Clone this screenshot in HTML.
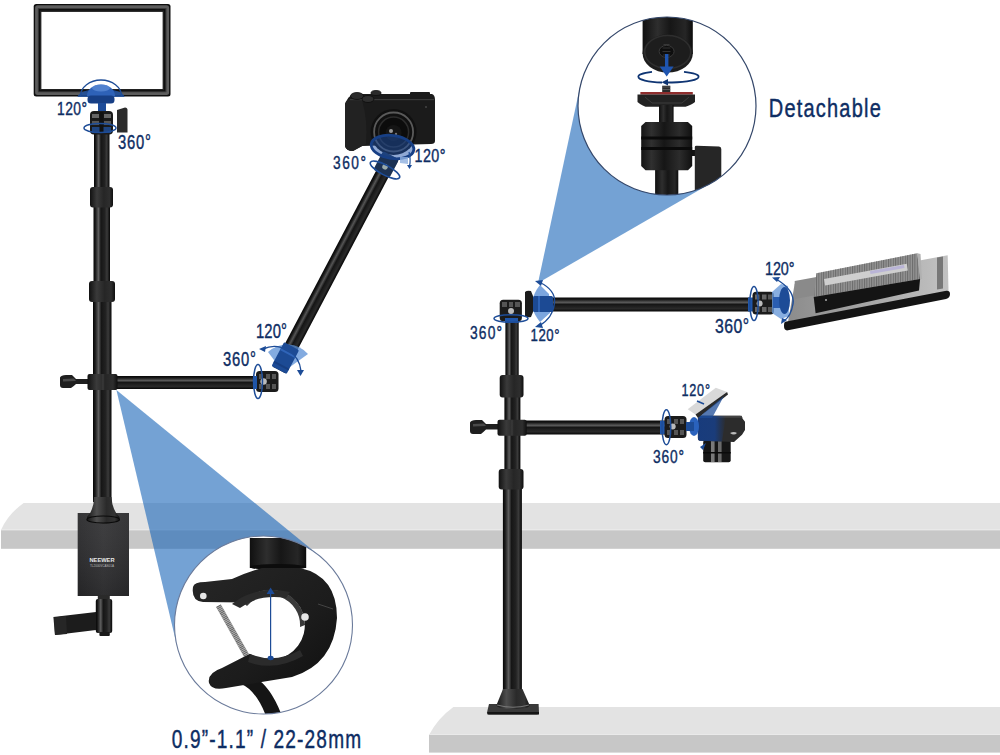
<!DOCTYPE html>
<html><head><meta charset="utf-8">
<style>
html,body{margin:0;padding:0;background:#fff;width:1000px;height:755px;overflow:hidden}
svg{display:block}
.t2{font-family:"Liberation Sans",sans-serif;fill:#0e2d63;stroke:#0e2d63;stroke-width:0.45px}
.t{font-family:"Liberation Sans",sans-serif;fill:#0e2d63;stroke:#0e2d63;stroke-width:0.4px}
</style></head>
<body>
<svg width="1000" height="755" viewBox="0 0 1000 755">
<defs>
 <linearGradient id="poleV" x1="0" x2="1" y1="0" y2="0">
  <stop offset="0" stop-color="#050505"/><stop offset="0.12" stop-color="#1c1c1c"/><stop offset="0.3" stop-color="#5e5e5e"/><stop offset="0.45" stop-color="#161616"/><stop offset="0.68" stop-color="#222"/><stop offset="0.82" stop-color="#3a3a3a"/><stop offset="1" stop-color="#060606"/>
 </linearGradient>
 <linearGradient id="poleH" x1="0" x2="0" y1="0" y2="1">
  <stop offset="0" stop-color="#050505"/><stop offset="0.15" stop-color="#1a1a1a"/><stop offset="0.35" stop-color="#5a5a5a"/><stop offset="0.5" stop-color="#161616"/><stop offset="0.8" stop-color="#2a2a2a"/><stop offset="1" stop-color="#050505"/>
 </linearGradient>
 <clipPath id="c1"><circle cx="263.5" cy="625" r="89"/></clipPath>
 <clipPath id="c2"><circle cx="667" cy="106" r="89"/></clipPath>

 <linearGradient id="poleH2" x1="0" x2="1" y1="0" y2="0">
  <stop offset="0" stop-color="#050505"/><stop offset="0.15" stop-color="#1a1a1a"/><stop offset="0.32" stop-color="#555"/><stop offset="0.5" stop-color="#151515"/><stop offset="0.8" stop-color="#2a2a2a"/><stop offset="1" stop-color="#050505"/>
 </linearGradient>
 <linearGradient id="collar" x1="0" x2="1" y1="0" y2="0">
  <stop offset="0" stop-color="#111"/><stop offset="0.3" stop-color="#3a3a3a"/><stop offset="0.6" stop-color="#262626"/><stop offset="0.85" stop-color="#2e2e2e"/><stop offset="1" stop-color="#0e0e0e"/>
 </linearGradient>
 <linearGradient id="coneG" x1="0" x2="1" y1="0" y2="0">
  <stop offset="0" stop-color="#161616"/><stop offset="0.3" stop-color="#4e4e4e"/><stop offset="0.6" stop-color="#2a2a2a"/><stop offset="0.85" stop-color="#333"/><stop offset="1" stop-color="#121212"/>
 </linearGradient>
 <linearGradient id="boxG" x1="0" x2="1" y1="0" y2="0">
  <stop offset="0" stop-color="#28282a"/><stop offset="0.5" stop-color="#333335"/><stop offset="1" stop-color="#2a2a2c"/>
 </linearGradient>

 <linearGradient id="cylG" x1="0" x2="1" y1="0" y2="0">
  <stop offset="0" stop-color="#101010"/><stop offset="0.3" stop-color="#2e2e2e"/><stop offset="0.55" stop-color="#161616"/><stop offset="0.85" stop-color="#262626"/><stop offset="1" stop-color="#0c0c0c"/>
 </linearGradient>
 <linearGradient id="clampG" x1="0" x2="1" y1="0" y2="1">
  <stop offset="0" stop-color="#262626"/><stop offset="0.6" stop-color="#1c1c1c"/><stop offset="1" stop-color="#101010"/>
 </linearGradient>

 <linearGradient id="plateG" x1="0" x2="1" y1="0" y2="0">
  <stop offset="0" stop-color="#8c8c8c"/><stop offset="0.5" stop-color="#a6a6a6"/><stop offset="1" stop-color="#c2c2c2"/>
 </linearGradient>
 <pattern id="ribs" width="2.4" height="10" patternUnits="userSpaceOnUse">
  <rect width="1" height="10" fill="#6a6a6a"/>
 </pattern>

 <linearGradient id="ballG" x1="0" x2="1" y1="0" y2="0">
  <stop offset="0" stop-color="#141414"/><stop offset="0.2" stop-color="#303030"/><stop offset="0.45" stop-color="#161616"/><stop offset="0.75" stop-color="#2c2c2c"/><stop offset="1" stop-color="#101010"/>
 </linearGradient>

 <linearGradient id="boxV" x1="0" x2="0" y1="0" y2="1">
  <stop offset="0" stop-color="#fff" stop-opacity="0.06"/><stop offset="1" stop-color="#000" stop-opacity="0.1"/>
 </linearGradient>

 <linearGradient id="wcBlue" x1="0" x2="1" y1="0" y2="0">
  <stop offset="0" stop-color="#173c80" stop-opacity="0.95"/><stop offset="0.6" stop-color="#173f88" stop-opacity="0.85"/><stop offset="1" stop-color="#173f88" stop-opacity="0"/>
 </linearGradient>
</defs>

<!-- shelves -->
<path d="M23.7,503 L1000,503 L1000,530 L1,530 Q8,514 23.7,503 Z" fill="#e3e3e3"/>
<rect x="1" y="529.3" width="999" height="1.2" fill="#ececec"/>
<rect x="1" y="530.3" width="999" height="18.5" fill="#c7c7c7"/>
<path d="M453.4,707 L1000,707 L1000,735 L429,735 Q438,718 453.4,707 Z" fill="#e3e3e3"/>
<rect x="429" y="734.2" width="571" height="1.2" fill="#ececec"/>
<rect x="429" y="735" width="571" height="17.6" fill="#c7c7c7"/>

<!-- left cone -->
<polygon points="116.4,390 176.9,645.5 263.5,625 319.8,556" fill="#1764b7" fill-opacity="0.6"/>
<!-- left circle -->
<circle cx="263.5" cy="625" r="89" fill="#fff"/>

<!-- right cone -->
<polygon points="538,283 579.9,87.3 667,106 711.4,183.1" fill="#1764b7" fill-opacity="0.6"/>
<circle cx="667" cy="106" r="89" fill="#fff"/>

<!-- LEFT STAND -->
<!-- pole -->
<rect x="94" y="130" width="15.5" height="60" fill="url(#poleV)"/>
<rect x="93.5" y="205" width="16.5" height="80" fill="url(#poleV)"/>
<rect x="93" y="300" width="18.5" height="202" fill="url(#poleV)"/>
<rect x="90" y="187" width="23" height="20.5" rx="3" fill="url(#collar)"/>
<rect x="89" y="281" width="26" height="21" rx="3" fill="url(#collar)"/>

<!-- clamp box -->
<rect x="77.7" y="513" width="51.3" height="83" fill="url(#boxG)"/>
<rect x="77.7" y="513" width="51.3" height="83" fill="url(#boxV)"/>
<path d="M94,497 L111.5,497 Q112,510 119.5,517 L119.5,520 Q112,524 103,524 Q94,524 87,520 L87,517 Q94,510 94,497 Z" fill="url(#coneG)"/>
<ellipse cx="103.2" cy="519.5" rx="16.3" ry="3.5" fill="none" stroke="#0a0a0a" stroke-width="1.2"/>
<text x="89.5" y="562" font-family="Liberation Sans" font-weight="bold" font-size="6.2" fill="#e8e8e8" textLength="25" lengthAdjust="spacingAndGlyphs">NEEWER</text>
<text x="90" y="566.5" font-family="Liberation Sans" font-size="3.5" fill="#bbb" textLength="24" lengthAdjust="spacingAndGlyphs">TL2000VCAS01A</text>
<!-- screw + handle -->
<rect x="97.8" y="595" width="12" height="5" fill="#2a2a2a"/>
<rect x="95.8" y="599" width="16.4" height="34" rx="2" fill="url(#poleV)"/>
<rect x="99.4" y="632" width="10.4" height="4" rx="1" fill="#1a1a1a"/>
<path d="M53.4,617 L96,612 L96,630 L55,635 Z" fill="#1c1c1c"/>
<path d="M54,617.5 L66,616 L67,634 L55,635 Z" fill="#262626"/>
<!-- horizontal arm -->
<rect x="116" y="376" width="140" height="13" fill="url(#poleH)"/>
<path d="M60,377.5 Q61,375 66,375 L72,375 Q74,377 76,379 L88,379 L88,384 L76,384 Q74,386 71,388 L63,388 Q60,388 60,385 Z" fill="#1f1f1f"/><path d="M63,379 L74,378.5 L76,381 L63,381.5 Z" fill="#4a4a4a"/>
<rect x="87.5" y="374" width="30" height="16" rx="2" fill="url(#collar)"/>
<line x1="103" y1="374" x2="103" y2="390" stroke="#444" stroke-width="0.8"/>
<!-- joint -->
<rect x="256" y="371" width="22.5" height="21" rx="3.5" fill="#1b1b1b"/>
<rect x="259" y="374" width="4" height="5" fill="#555"/><rect x="266" y="374" width="4" height="5" fill="#555"/><rect x="272" y="374" width="4" height="5" fill="#555"/>
<rect x="259" y="384" width="4" height="5" fill="#555"/><rect x="266" y="384" width="4" height="5" fill="#555"/><rect x="272" y="384" width="4" height="5" fill="#555"/>
<circle cx="263.6" cy="381.5" r="3.2" fill="#bbb"/>
<ellipse cx="258" cy="381.5" rx="4.5" ry="17" fill="none" stroke="#1d4c97" stroke-width="1.5"/>
<rect x="253" y="376" width="4" height="13" fill="#1f55a8"/>
<!-- diagonal arm -->
<g transform="translate(279,370) rotate(27.8)">
 <path d="M284,372 L297,352 L300,354 L286,374 Z" fill="none"/>
 <rect x="-7" y="-226" width="14" height="226" fill="url(#poleH2)"/>
 <path d="M-16,-5 A25,25 0 0 1 -3,-30 L0,0 Z" fill="#6f9fd8" opacity="0"/>
</g>
<path d="M283,372 L268,352 A28,28 0 0 1 308,354 Z" fill="#5a8fd6" fill-opacity="0.75"/>
<g transform="translate(279,370) rotate(27.8)">
 <rect x="-8.5" y="-27" width="17" height="27" rx="1.5" fill="#1c4a94"/>
 <rect x="-8.5" y="-20" width="17" height="2" fill="#2f64b8"/>
 <rect x="-8.5" y="-6" width="17" height="2" fill="#173e80"/>
</g>
<path d="M263,349 A27,27 0 0 1 301,371" fill="none" stroke="#1d4c97" stroke-width="1.4"/>
<path d="M259,349 L266,346 L265,352 Z" fill="#1d4c97"/>
<path d="M297,370 L304,370 L300.5,376 Z" fill="#1d4c97"/>
<!-- panel -->
<rect x="33.7" y="3.9" width="136.8" height="92.5" rx="2.5" fill="#0e0e0e"/>
<rect x="36.6" y="6.8" width="131" height="86.7" rx="1" fill="none" stroke="#5c5c5c" stroke-width="3"/>
<rect x="38.3" y="8.5" width="127.6" height="83.3" fill="none" stroke="#3a3a3a" stroke-width="1"/>
<rect x="41.2" y="11.7" width="121.6" height="77.3" fill="#fff"/>
<rect x="40.6" y="11.1" width="122.8" height="78.5" fill="none" stroke="#222" stroke-width="1.2"/>
<!-- ball head under panel -->
<path d="M77.5,97 A23.5,8 0 0 1 124.5,97 Z" fill="#1c4f9f" fill-opacity="0.85"/>
<path d="M87,96 A14,11.5 0 0 1 115,96 Z" fill="#2e62b8"/>
<ellipse cx="101" cy="88" rx="9" ry="3.5" fill="#5f8fd8" opacity="0.7"/>
<rect x="87.5" y="95.5" width="27" height="8" rx="3.5" fill="#173f85"/>
<rect x="98" y="103" width="8" height="9" fill="#1d4c9a"/>
<rect x="90" y="111" width="23" height="23.5" rx="4" fill="#1a1a1a"/>
<rect x="92" y="114" width="7" height="4" fill="#666"/><rect x="104" y="114" width="7" height="4" fill="#666"/>
<rect x="92" y="121" width="7" height="4" fill="#555"/><rect x="104" y="121" width="7" height="4" fill="#555"/>
<rect x="92" y="127" width="19" height="6" fill="#1f4f9a" fill-opacity="0.8"/>
<rect x="99.5" y="112" width="4" height="20" fill="#111"/>
<path d="M117,110 L125,107.5 Q127.5,107.5 127.5,110 L127.5,132.5 L117,132.5 Z" fill="#2b2b2b"/>
<ellipse cx="100" cy="128" rx="16" ry="4.5" fill="none" stroke="#1d4c97" stroke-width="1.5"/>
<path d="M80.5,96 A20.5,16 0 0 1 121.5,96" fill="none" stroke="#1d4c97" stroke-width="1.3"/>
<!-- camera -->
<path d="M347,100 Q349,95 356,94 L432,94 Q435,95 435,100 L435,141 Q435,144 431,144 L362,146 L353,151 Q346,151 345,146 L345,104 Z" fill="#1b1b1b"/>
<path d="M345,104 Q346,99 352,99 L362,100 Q368,120 366,144 L353,151 Q346,151 345,146 Z" fill="#222"/>
<rect x="350" y="99" width="84" height="1.2" fill="#3a3a3a"/>
<rect x="410" y="92" width="20" height="3" rx="1" fill="#1b1b1b"/>
<ellipse cx="357" cy="96" rx="6.5" ry="3.5" fill="#2a2a2a" stroke="#0c0c0c" stroke-width="0.8"/>
<ellipse cx="368" cy="99" rx="6" ry="3.5" fill="#2e2e2e" stroke="#0c0c0c" stroke-width="0.8"/>
<ellipse cx="376" cy="93" rx="5" ry="2.5" fill="#2a2a2a" stroke="#0c0c0c" stroke-width="0.8"/>
<circle cx="393.6" cy="132" r="23" fill="#101010"/>
<circle cx="393.6" cy="132" r="19.5" fill="none" stroke="#5a5a5a" stroke-width="1.8"/>
<circle cx="393.6" cy="132" r="15" fill="#0c0c0c" stroke="#2c2c2c" stroke-width="1.5"/>
<circle cx="393.6" cy="133" r="8" fill="#151515"/>
<circle cx="391" cy="131" r="2" fill="#9a9a9a"/>
<circle cx="396" cy="134" r="1.2" fill="#777"/>
<circle cx="426" cy="107" r="1" fill="#444"/>
<g transform="translate(386,165) rotate(27.8)">
 <rect x="-9" y="-11" width="18" height="21" rx="2.5" fill="#1b1b1b"/>
 <rect x="-9" y="-11" width="18" height="21" rx="2.5" fill="#1f55a8" fill-opacity="0.4"/>
 <circle cx="0" cy="2" r="2.8" fill="#9aa"/>
</g>
<ellipse cx="392.5" cy="147" rx="21.5" ry="11.5" fill="#1f52a8" fill-opacity="0.5" transform="rotate(8 392.5 147)"/>
<ellipse cx="392.5" cy="147" rx="21.5" ry="11.5" fill="none" stroke="#173f85" stroke-width="2.8" transform="rotate(8 392.5 147)"/>
<ellipse cx="385" cy="170" rx="16.5" ry="5" fill="none" stroke="#1d4c97" stroke-width="1.6" transform="rotate(28 385 170)"/>
<path d="M400,157 L408,157 L408,164 L400,163 Z" fill="#8fb0e0" opacity="0.8"/>
<path d="M409,152 Q411,160 409.5,166" fill="none" stroke="#1d4c97" stroke-width="1.2"/><path d="M407,165 L412,165 L409.5,169 Z" fill="#1d4c97"/>

<!-- RIGHT STAND -->
<rect x="505.4" y="318" width="13.3" height="60" fill="url(#poleV)"/>
<rect x="504.4" y="396" width="16" height="75" fill="url(#poleV)"/>
<rect x="502.9" y="488" width="19" height="204" fill="url(#poleV)"/>
<rect x="499.7" y="375" width="23.8" height="22.5" rx="3" fill="url(#collar)"/>
<rect x="498.7" y="469" width="24.8" height="20.5" rx="3" fill="url(#collar)"/>
<path d="M489,704 L538.6,704 L539,712.5 Q539,714.5 537,714.5 L489,714.5 Q487,714.5 487,712.5 Z" fill="#3a3a3a"/>
<rect x="487.5" y="712" width="51.5" height="2.5" fill="#151515"/>
<path d="M503,689 L522.5,689 L529.5,705 Q529.5,709 513,709 Q496.5,709 496.5,705 Z" fill="url(#coneG)"/>
<path d="M497,705 Q513,709.5 529,705" fill="none" stroke="#888" stroke-width="0.8"/>
<!-- lower arm -->
<rect x="526" y="420.5" width="140" height="14" fill="url(#poleH)"/>
<path d="M470,422.5 Q471,420 476,420 L482,420 Q484,422 486,424 L498,424 L498,429.5 L486,429.5 Q484,431.5 481,434 L473,434 Q470,434 470,431 Z" fill="#1f1f1f"/><path d="M473,424 L484,423.5 L486,426 L473,426.5 Z" fill="#4a4a4a"/>
<rect x="497.5" y="419.7" width="29.2" height="16" rx="2" fill="url(#collar)"/>
<line x1="512" y1="419.7" x2="512" y2="435.7" stroke="#444" stroke-width="0.8"/>
<rect x="664.5" y="416" width="22" height="22" rx="3.5" fill="#1b1b1b"/>
<rect x="667" y="419" width="4" height="5" fill="#555"/><rect x="674" y="419" width="4" height="5" fill="#555"/><rect x="680" y="419" width="4" height="5" fill="#555"/>
<rect x="667" y="430" width="4" height="5" fill="#555"/><rect x="674" y="430" width="4" height="5" fill="#555"/><rect x="680" y="430" width="4" height="5" fill="#555"/>
<circle cx="672.7" cy="426.6" r="3" fill="#bbb"/>
<rect x="660" y="421" width="4.5" height="13" fill="#1f55a8"/>
<ellipse cx="666.4" cy="427.2" rx="4.4" ry="17.5" fill="none" stroke="#1d4c97" stroke-width="1.5"/>
<!-- webcam -->
<rect x="703.2" y="440" width="27.5" height="22.3" rx="2" fill="#161616"/>
<rect x="711" y="441" width="3.6" height="21" fill="#7a7a7a"/>
<rect x="718" y="441" width="3.6" height="21" fill="#6a6a6a"/>
<rect x="703.2" y="452" width="27.5" height="1.5" fill="#0a0a0a"/>
<path d="M700,415.8 L740,415.8 Q742.5,415.8 742.5,418.5 L745,421.7 L745,430 L742,434.8 L734,442 L700,440.8 Q697.9,440.8 697.9,438 L697.9,418 Q697.9,415.8 700,415.8 Z" fill="#2c2c2c"/>
<rect x="697.9" y="415.8" width="44" height="2" fill="#444"/>
<path d="M730,433 Q734,431 737,433 Q734,436 730,433 Z" fill="#bbb"/>
<path d="M697.9,418 L697.9,438 Q697.9,440.8 700,440.8 L722,441.5 L726,416 L700,415.8 Z" fill="url(#wcBlue)"/>
<path d="M687.7,409.2 L715.8,387.7 L727.1,391.9 L695.5,414.6 Z" fill="#d9d9d9"/>
<path d="M695.5,414.6 L727.1,391.9 L728,394.5 L698,418 Z" fill="#2a2a2a"/>
<path d="M698,418 L724,396 L712,418 Z" fill="#1d4c97" fill-opacity="0.75"/>
<ellipse cx="694" cy="426.5" rx="5" ry="9.5" fill="#2a62bd"/>
<rect x="686" y="422" width="8" height="9" fill="#1d4c97"/>
<path d="M697,401 L704,404" stroke="#1d4c97" stroke-width="1.6"/>
<path d="M700,447 L706,443 L703,450 Z" fill="#1d4c97"/>
<!-- upper arm -->
<rect x="548" y="297.5" width="202" height="14" fill="url(#poleH)"/>
<path d="M533,304 L525,284 A28,28 0 0 1 554,290 Z" fill="none"/>
<path d="M531,304 Q534,292 540,285 L549,294 L550,313 L540,322 Q534,315 531,304 Z" fill="#5a8fd6" fill-opacity="0.8"/>
<rect x="533" y="296" width="20" height="16" rx="1.5" fill="#1c4a94"/>
<rect x="538" y="296" width="2" height="16" fill="#2f64b8"/>
<path d="M525,292 Q527,290 531,291 L533,296 L533,312 L531,317 Q527,318 525,316 Z" fill="#1b1b1b"/>
<path d="M539,282 Q556,290 554.5,303 Q553,318 539,326" fill="none" stroke="#1d4c97" stroke-width="1.3"/>
<path d="M535,281 L543,280 L541,286 Z" fill="#1d4c97"/>
<path d="M535,327 L543,328 L541,322 Z" fill="#1d4c97"/>
<!-- top joint -->
<rect x="499.7" y="299.7" width="22.2" height="21.6" rx="3.5" fill="#1b1b1b"/>
<rect x="502" y="302" width="5" height="5" fill="#555"/><rect x="509" y="302" width="4" height="5" fill="#555"/><rect x="515" y="302" width="5" height="5" fill="#555"/>
<circle cx="511" cy="311" r="3" fill="#bbb"/>
<rect x="505" y="318" width="13" height="5" fill="#1f55a8"/>
<ellipse cx="511" cy="318.5" rx="17" ry="3.8" fill="none" stroke="#1d4c97" stroke-width="1.5"/>
<!-- right-end joint -->
<rect x="748" y="297.5" width="6" height="14" fill="#1f55a8"/>
<rect x="752.5" y="291.8" width="21.5" height="22.7" rx="3.5" fill="#1b1b1b"/>
<rect x="755" y="294.5" width="4.5" height="5" fill="#666"/><rect x="762" y="294.5" width="4.5" height="5" fill="#666"/><rect x="768" y="294.5" width="4" height="5" fill="#555"/>
<rect x="755" y="307" width="4.5" height="5" fill="#666"/><rect x="762" y="307" width="4.5" height="5" fill="#666"/><rect x="768" y="307" width="4" height="5" fill="#555"/>
<circle cx="759.6" cy="303.4" r="3" fill="#bbb"/>
<ellipse cx="754" cy="303.5" rx="4.2" ry="17" fill="none" stroke="#1d4c97" stroke-width="1.5"/>
<!-- right panel -->
<path d="M794.7,283.7 L947.7,255.2 L948.6,295.1 L788,321.7 Z" fill="url(#plateG)"/>
<rect x="937" y="257" width="6" height="32" fill="#777" transform="skewY(-10.5)" transform-origin="940 273"/>
<path d="M785.2,321.7 L945,291 Q950,290 950,294 Q950,298 946,299 L788,330.3 Q784,331 784,326 Q784,322 785.2,321.7 Z" fill="#141414"/>
<path d="M794.7,281 L816.5,277 L816.5,295 L794.7,299 Z" fill="#8a8a8a"/>
<path d="M816.5,273.3 L917.3,253.3 L920.1,279 L813.7,297 Z" fill="#949494"/>
<path d="M816.5,273.3 L917.3,253.3 L920.1,279 L813.7,297 Z" fill="url(#ribs)"/>
<path d="M824,279 L906.8,263.8 L907.8,270.4 L825.1,285.6 Z" fill="#cfcfcf"/>
<path d="M870,271 L904,265 L904.5,268 L870.5,274 Z" fill="#b9b4d6"/>
<path d="M917.3,253.3 L920.5,254 L922,279 L920.1,279 Z" fill="#b0b0b0"/>
<path d="M813.7,297 L920.1,279 L919,290.4 L815.6,313.2 Z" fill="#141414"/>
<circle cx="826" cy="300" r="1" fill="#aaa"/>
<path d="M772,292 L781,284 L788,286 L789,316 L781,319 L772,313 Z" fill="#6a9ad8" fill-opacity="0.8"/>
<rect x="773" y="297" width="10" height="11" fill="#2a5db0"/>
<ellipse cx="784.5" cy="300.5" rx="5.5" ry="13.5" fill="#1d4c97"/>
<path d="M776,279 Q795,290 793,304 Q791,316 784,321" fill="none" stroke="#1d4c97" stroke-width="1.4"/>
<path d="M782,318 L787,320 L781,324 Z" fill="#1d4c97"/>
<path d="M772,277.5 L780,277 L777,282 Z" fill="#1d4c97"/>

<!-- right circle content -->
<g clip-path="url(#c2)">
 <rect x="642.6" y="0" width="50.2" height="54" fill="url(#cylG)"/>
 <ellipse cx="667.7" cy="53.6" rx="25.1" ry="19" fill="#1d1d1d"/>
 <ellipse cx="667.7" cy="52" rx="23" ry="16.5" fill="none" stroke="#2e2e2e" stroke-width="1.5"/>
 <ellipse cx="666.6" cy="51.4" rx="7.5" ry="6" fill="#0e0e0e" stroke="#3a3a3a" stroke-width="1"/>
 <path d="M663.5,44.5 L669.5,44.5 M662.5,48 L670.5,48 M662.5,51.5 L670.5,51.5 M663,55 L670,55" stroke="#444" stroke-width="0.7"/>
 <rect x="665" y="54" width="3.4" height="14" fill="#1f55b0"/>
 <path d="M659.6,66.5 L673.6,66.5 L666.7,76.5 Z" fill="#1f55b0"/>
 <path d="M652,71.8 A30,5.5 0 0 0 638.5,77 A30,5.5 0 0 0 662,82.5" fill="none" stroke="#0f3573" stroke-width="1.8"/>
 <path d="M684,71.8 A30,5.5 0 0 1 698.5,77 A30,5.5 0 0 1 672,82.5 L668,82.5" fill="none" stroke="#0f3573" stroke-width="1.8"/>
 <path d="M668,79 L661.5,82.3 L668,85.5 Z" fill="#0f3573"/>
 <rect x="662.2" y="85.7" width="8.1" height="7" fill="#2a2a2a"/>
 <path d="M662.2,87 L670.3,87 M662.2,89.5 L670.3,89.5" stroke="#777" stroke-width="0.6"/>
 <rect x="640.4" y="92" width="52.4" height="2.6" fill="#8f2d2d"/>
 <path d="M637.5,94.4 L695,94.4 L695,102 Q693,104 685.6,106.8 L645.5,106.8 Q639.5,104 637.5,102 Z" fill="#222"/>
 <path d="M645,97 L652,103 L682,103 L689,97" fill="none" stroke="#3c3c3c" stroke-width="1"/>
 <rect x="659" y="105" width="14.6" height="17" fill="url(#cylG)"/>
 <rect x="655.1" y="168" width="23.2" height="30" fill="url(#cylG)"/>
 <rect x="692" y="150" width="4" height="6" fill="#111"/>
 <path d="M694.8,147 Q694.8,145.7 696.5,145.7 L719,146.5 Q721.3,146.5 721.3,149 L721.3,195 L694.8,195 Z" fill="#262626"/>
 <path d="M645.5,121.9 L687.9,121.9 L692.2,126 L692.2,166 L688,170.2 L645.5,170.2 L641.2,166 L641.2,126 Z" fill="url(#ballG)"/>
 <rect x="641.2" y="136.5" width="51" height="3" fill="#0a0a0a"/>
 <rect x="641.2" y="147" width="51" height="3" fill="#0a0a0a"/>
</g>
<circle cx="667" cy="106" r="89" fill="none" stroke="#34476a" stroke-width="1.2"/>
<!-- left circle content -->
<g clip-path="url(#c1)">
 <path d="M241,684 Q256,690 266,716 L282,716 Q270,684 252,676 Z" fill="#151515"/>
 <rect x="249.8" y="538" width="56.4" height="30" fill="url(#cylG)"/>
 <ellipse cx="278" cy="567" rx="28.2" ry="3" fill="#0c0c0c"/>
 <path d="M216,607 L221,604.5 L249,654 L244,657 Z" fill="#b0b0b0"/>
 <path d="M218.5,605.8 L246.5,655.5" fill="none" stroke="#555" stroke-width="5" stroke-dasharray="0.7 1.1"/>
 <path d="M193,587 Q191,601 203,602 L243,602.5 A35,35 0 1 1 249.9,653.7 L222,668 Q207,673 209,683 Q212,691 226,688 L292,677 Q334,664 337,618 Q337,576 300,568 L262,568 Q245,573 232,579 L205,582 Q194,582 193,587 Z" fill="url(#clampG)"/>
 <path d="M243,602.5 A35,35 0 0 1 305,625 L300,627 A30,30 0 0 0 247,606 Z" fill="#3a3a3a"/>
 <path d="M232,604 Q255,585 290,592 L286,598 Q258,594 240,608 Z" fill="#2b2b2b"/>
 <path d="M250,654 Q275,664 300,650 L303,656 Q275,672 248,662 Z" fill="#2b2b2b"/>
 <circle cx="203.3" cy="596" r="3.3" fill="#e6e6e6"/>
 <circle cx="305" cy="617" r="3.8" fill="#e6e6e6"/>
 <path d="M318,604 L333,609" stroke="#444" stroke-width="1"/>
 <line x1="270.6" y1="657" x2="270.6" y2="591" stroke="#1d4c97" stroke-width="1.2"/>
 <path d="M266.6,594 L270.6,587.5 L274.6,594 Z" fill="#1d4c97"/>
 <ellipse cx="270.6" cy="658" rx="3" ry="2.2" fill="#1d4c97"/>
</g>
<circle cx="263.5" cy="625" r="89" fill="none" stroke="#6a7a9a" stroke-width="1.1"/>
<!-- texts -->
<text class="t" transform="scale(0.76,1)" x="75.00" y="114.80" font-size="18.28" textLength="39.47" lengthAdjust="spacing">120°</text>
<text class="t" transform="scale(0.76,1)" x="155.26" y="148.80" font-size="19.49" textLength="43.42" lengthAdjust="spacing">360°</text>
<text class="t" transform="scale(0.76,1)" x="438.16" y="169.30" font-size="18.06" textLength="43.42" lengthAdjust="spacing">360°</text>
<text class="t" transform="scale(0.76,1)" x="545.39" y="161.80" font-size="18.90" textLength="40.79" lengthAdjust="spacing">120°</text>
<text class="t" transform="scale(0.76,1)" x="336.84" y="337.80" font-size="19.49" textLength="40.79" lengthAdjust="spacing">120°</text>
<text class="t" transform="scale(0.76,1)" x="293.42" y="365.80" font-size="19.49" textLength="43.42" lengthAdjust="spacing">360°</text>
<text class="t" transform="scale(0.76,1)" x="618.42" y="338.80" font-size="18.21" textLength="42.11" lengthAdjust="spacing">360°</text>
<text class="t" transform="scale(0.76,1)" x="698.03" y="341.30" font-size="17.37" textLength="38.16" lengthAdjust="spacing">120°</text>
<text class="t" transform="scale(0.76,1)" x="1006.58" y="274.80" font-size="18.90" textLength="38.82" lengthAdjust="spacing">120°</text>
<text class="t" transform="scale(0.76,1)" x="940.79" y="333.30" font-size="20.83" textLength="44.74" lengthAdjust="spacing">360°</text>
<text class="t" transform="scale(0.76,1)" x="896.71" y="395.80" font-size="16.67" textLength="37.50" lengthAdjust="spacing">120°</text>
<text class="t" transform="scale(0.76,1)" x="859.21" y="462.80" font-size="18.12" textLength="40.79" lengthAdjust="spacing">360°</text>
<text class="t2" transform="scale(0.8,1)" x="961" y="117.1" font-size="25" textLength="140" lengthAdjust="spacing">Detachable</text>
<text class="t2" transform="scale(0.72,1)" x="238.5" y="748" font-size="26.5" textLength="263" lengthAdjust="spacing">0.9”-1.1” / 22-28mm</text>
</svg>
</body></html>
